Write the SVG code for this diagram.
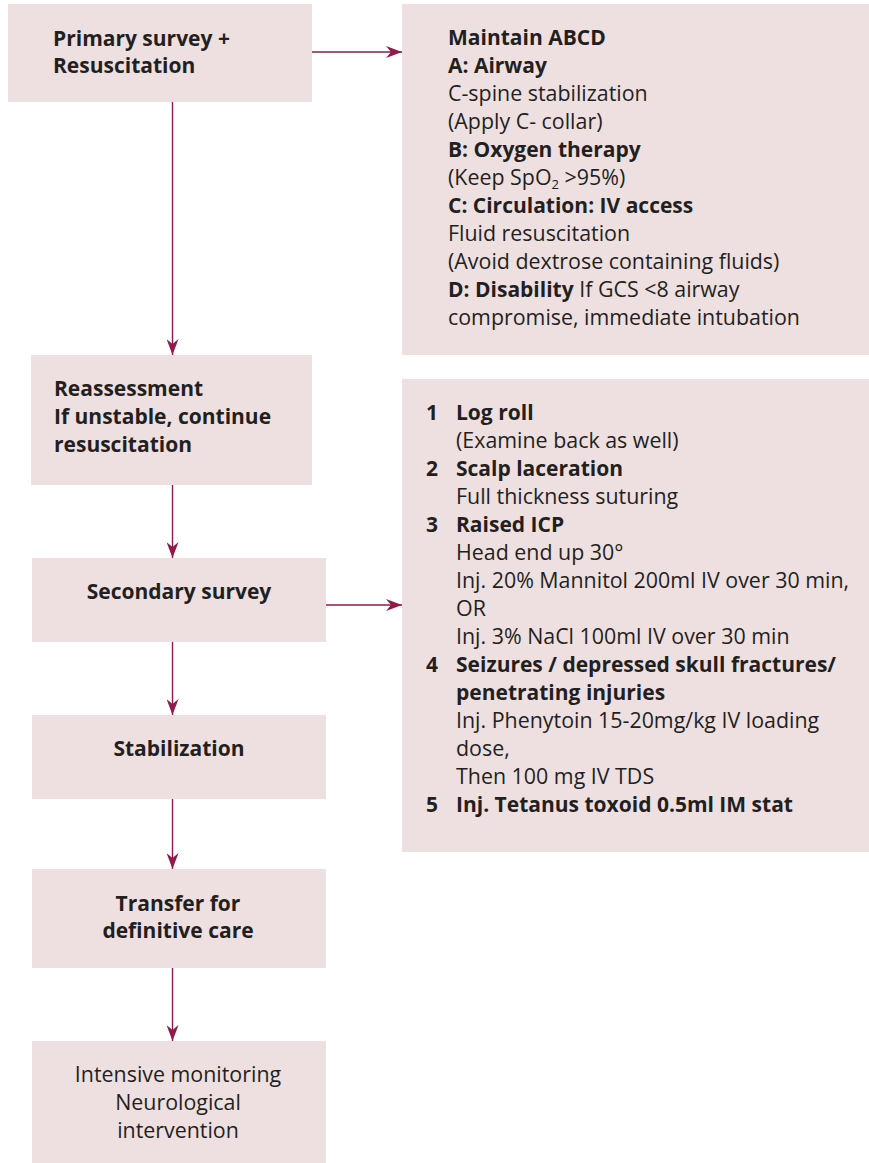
<svg xmlns="http://www.w3.org/2000/svg" width="869" height="1163" viewBox="0 0 869 1163">
  <style>
    .box { fill: #EEE0E1; }
    text { font-family: "Open Sans", "Liberation Sans", sans-serif; font-size: 21.4px; fill: #231F20; }
    .b { font-weight: bold; font-size: 21px; }
    .c { text-anchor: middle; }
    .link { stroke: #8E1B4C; stroke-width: 1.4; fill: none; marker-end: url(#head); }
  </style>
  <defs>
    <marker id="head" viewBox="0 0 16 12" refX="16" refY="6" markerWidth="16" markerHeight="12" markerUnits="userSpaceOnUse" orient="auto">
      <path d="M0,0 L16,6 L0,12 L5,6 Z" fill="#8E1B4C"/>
    </marker>
  </defs>

  <rect width="869" height="1163" fill="#FFFFFF"/>

  <!-- main column -->
  <g id="primary-survey">
    <rect class="box" x="8" y="4" width="304" height="98"/>
    <text class="b" x="53" y="46">Primary survey +</text>
    <text class="b" x="53" y="73">Resuscitation</text>
  </g>

  <g id="maintain-abcd">
    <rect class="box" x="402" y="4" width="467" height="351"/>
    <text class="b" x="448" y="45">Maintain ABCD</text>
    <text class="b" x="448" y="73">A: Airway</text>
    <text x="448" y="101">C-spine stabilization</text>
    <text x="448" y="129">(Apply C- collar)</text>
    <text class="b" x="448" y="157">B: Oxygen therapy</text>
    <text x="448" y="185">(Keep SpO<tspan font-size="13" dy="4">2</tspan><tspan dy="-4"> &gt;95%)</tspan></text>
    <text class="b" x="448" y="213">C: Circulation: IV access</text>
    <text x="448" y="241">Fluid resuscitation</text>
    <text x="448" y="269">(Avoid dextrose containing fluids)</text>
    <text x="448" y="297"><tspan class="b">D: Disability</tspan> If GCS &lt;8 airway</text>
    <text x="448" y="325">compromise, immediate intubation</text>
  </g>

  <g id="reassessment">
    <rect class="box" x="31" y="355" width="281" height="130"/>
    <text class="b" x="54" y="396">Reassessment</text>
    <text class="b" x="54" y="424">If unstable, continue</text>
    <text class="b" x="54" y="452">resuscitation</text>
  </g>

  <g id="secondary-survey">
    <rect class="box" x="32" y="558" width="294" height="84"/>
    <text class="b c" x="179" y="599">Secondary survey</text>
  </g>

  <g id="secondary-steps">
    <rect class="box" x="402" y="379" width="467" height="473"/>
    <text class="b" x="426" y="420">1</text>
    <text class="b" x="456" y="420">Log roll</text>
    <text x="456" y="448">(Examine back as well)</text>
    <text class="b" x="426" y="476">2</text>
    <text class="b" x="456" y="476">Scalp laceration</text>
    <text x="456" y="504">Full thickness suturing</text>
    <text class="b" x="426" y="532">3</text>
    <text class="b" x="456" y="532">Raised ICP</text>
    <text x="456" y="560">Head end up 30°</text>
    <text x="456" y="588">Inj. 20% Mannitol 200ml IV over 30 min,</text>
    <text x="456" y="616">OR</text>
    <text x="456" y="644">Inj. 3% NaCl 100ml IV over 30 min</text>
    <text class="b" x="426" y="672">4</text>
    <text class="b" x="456" y="672">Seizures / depressed skull fractures/</text>
    <text class="b" x="456" y="700">penetrating injuries</text>
    <text x="456" y="728">Inj. Phenytoin 15-20mg/kg IV loading</text>
    <text x="456" y="756">dose,</text>
    <text x="456" y="784">Then 100 mg IV TDS</text>
    <text class="b" x="426" y="812">5</text>
    <text class="b" x="456" y="812">Inj. Tetanus toxoid 0.5ml IM stat</text>
  </g>

  <g id="stabilization">
    <rect class="box" x="32" y="715" width="294" height="84"/>
    <text class="b c" x="179" y="756">Stabilization</text>
  </g>

  <g id="transfer">
    <rect class="box" x="32" y="869" width="294" height="99"/>
    <text class="b c" x="178" y="911">Transfer for</text>
    <text class="b c" x="178" y="938">definitive care</text>
  </g>

  <g id="monitoring">
    <rect class="box" x="32" y="1041" width="294" height="122"/>
    <text class="c" x="178" y="1082">Intensive monitoring</text>
    <text class="c" x="178" y="1110">Neurological</text>
    <text class="c" x="178" y="1138">intervention</text>
  </g>

  <!-- connectors -->
  <g id="connectors">
    <line class="link" x1="312" y1="52" x2="402" y2="52"/>
    <line class="link" x1="172.5" y1="102" x2="172.5" y2="355"/>
    <line class="link" x1="172.5" y1="485" x2="172.5" y2="558"/>
    <line class="link" x1="326" y1="605" x2="402" y2="605"/>
    <line class="link" x1="172.5" y1="642" x2="172.5" y2="715"/>
    <line class="link" x1="172.5" y1="799" x2="172.5" y2="869"/>
    <line class="link" x1="172.5" y1="968" x2="172.5" y2="1041"/>
  </g>
</svg>
